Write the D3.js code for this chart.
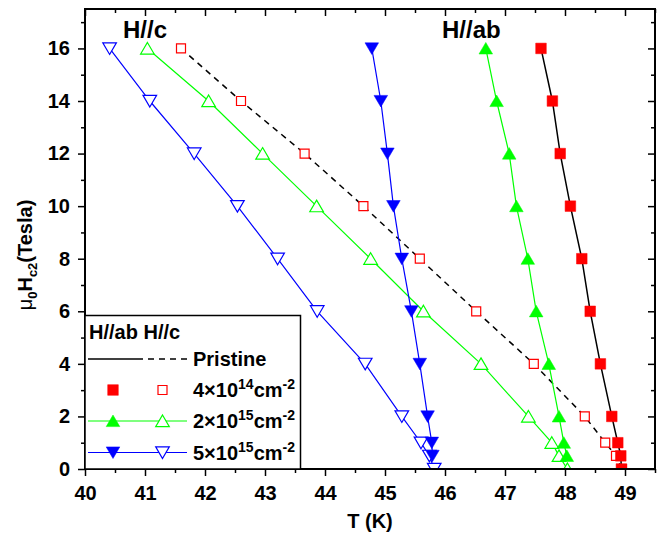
<!DOCTYPE html>
<html>
<head>
<meta charset="utf-8">
<script src="https://cdn.jsdelivr.net/npm/d3@7"></script>
<style>
  body { margin: 0; background: #fff; }
  svg text { font-family: "Liberation Sans", Arial, sans-serif; font-weight: bold; fill: #000; }
</style>
</head>
<body>
<div id="chart"></div>
<script>
// field values (Tesla)
const fieldFull = [16, 14, 12, 10, 8, 6, 4, 2, 1, 0.5, 0];
const fieldNoZero = [16, 14, 12, 10, 8, 6, 4, 2, 1, 0.5];

// temperatures (K), H//ab and H//c for each sample
const pristineAb = [47.6, 47.79, 47.92, 48.09, 48.28, 48.42, 48.59, 48.78, 48.88, 48.93, 48.94];
const pristineC = [41.6, 42.6, 43.66, 44.64, 45.58, 46.52, 47.48, 48.33, 48.67, 48.85, 48.95];
const dose2e15Ab = [46.68, 46.86, 47.07, 47.19, 47.38, 47.52, 47.73, 47.9, 47.98, 48.03];
const dose2e15C = [41.04, 42.06, 42.96, 43.86, 44.76, 45.64, 46.6, 47.39, 47.78, 47.9, 48.04];
const dose5e15Ab = [44.78, 44.93, 45.04, 45.14, 45.28, 45.44, 45.58, 45.71, 45.78, 45.79];
const dose5e15C = [40.41, 41.08, 41.82, 42.54, 43.21, 43.87, 44.67, 45.28, 45.6, 45.74, 45.82];

const xTicks = [40, 41, 42, 43, 44, 45, 46, 47, 48, 49];
const yTicks = [0, 2, 4, 6, 8, 10, 12, 14, 16];

const width = 660;
const height = 536;
const plotLeft = 85, plotRight = 655, plotTop = 9, plotBottom = 469;

const x = d3.scaleLinear().domain([40, 49.5]).range([plotLeft, plotRight]);
const y = d3.scaleLinear().domain([0, 17.5]).range([plotBottom, plotTop]);

const svg = d3.select('#chart')
    .append('svg')
    .attr('width', width)
    .attr('height', height);

svg.append('clipPath').attr('id', 'plotclip')
    .append('rect')
    .attr('x', plotLeft).attr('y', plotTop)
    .attr('width', plotRight - plotLeft).attr('height', plotBottom - plotTop);

// marker shapes
function markerPath(kind) {
    if (kind === 'square') return 'M-5.3,-5.3H5.3V5.3H-5.3Z';
    if (kind === 'squareOpen') return 'M-4.5,-4.5H4.5V4.5H-4.5Z';
    if (kind === 'up') return 'M0,-6L6.8,5.6H-6.8Z';
    if (kind === 'down') return 'M0,6L6.8,-5.6H-6.8Z';
}

const series = [
    { T: pristineC, H: fieldFull, line: '#000', dash: '6,5', lw: 1.5, shape: 'squareOpen', color: '#ff0000', filled: false },
    { T: dose2e15C, H: fieldFull, line: '#00ff00', dash: null, lw: 1.2, shape: 'up', color: '#00ff00', filled: false },
    { T: dose5e15C, H: fieldFull, line: '#0000ff', dash: null, lw: 1.2, shape: 'down', color: '#0000ff', filled: false },
    { T: pristineAb, H: fieldFull, line: '#000', dash: null, lw: 1.5, shape: 'square', color: '#ff0000', filled: true },
    { T: dose2e15Ab, H: fieldNoZero, line: '#00ff00', dash: null, lw: 1.2, shape: 'up', color: '#00ff00', filled: true },
    { T: dose5e15Ab, H: fieldNoZero, line: '#0000ff', dash: null, lw: 1.2, shape: 'down', color: '#0000ff', filled: true }
];

const plot = svg.append('g').attr('clip-path', 'url(#plotclip)');
const line = d3.line().x(d => x(d[0])).y(d => y(d[1]));

series.forEach(s => {
    const pts = s.T.map((t, i) => [t, s.H[i]]);
    plot.append('path')
        .attr('d', line(pts))
        .attr('fill', 'none')
        .attr('stroke', s.line)
        .attr('stroke-width', s.lw)
        .attr('stroke-dasharray', s.dash);
    plot.append('g').selectAll('path')
        .data(pts)
        .enter()
        .append('path')
        .attr('transform', d => 'translate(' + x(d[0]) + ',' + y(d[1]) + ')')
        .attr('d', markerPath(s.shape))
        .attr('fill', s.filled ? s.color : '#fff')
        .attr('stroke', s.color)
        .attr('stroke-width', s.filled ? 0.5 : 1.2);
});

// axes
function styleAxis(g) {
    g.select('.domain').remove();
    g.selectAll('line').attr('stroke', '#000').attr('stroke-width', 1.5);
    g.selectAll('text').attr('font-size', 20);
    g.attr('font-family', null).attr('font-size', null);
}

const xMinor = d3.range(40.5, 49.6, 1);
const yMinor = d3.range(1, 17.1, 2);

svg.append('g').attr('transform', 'translate(0,' + plotBottom + ')')
    .call(d3.axisBottom(x).tickValues(xTicks).tickSize(7).tickSizeOuter(0).tickPadding(10).tickFormat(d3.format('d')))
    .call(styleAxis);
svg.append('g').attr('transform', 'translate(0,' + plotBottom + ')')
    .call(d3.axisBottom(x).tickValues(xMinor).tickSize(4).tickSizeOuter(0).tickFormat(''))
    .call(styleAxis);
svg.append('g').attr('transform', 'translate(' + plotLeft + ',0)')
    .call(d3.axisLeft(y).tickValues(yTicks).tickSize(7).tickSizeOuter(0).tickPadding(8).tickFormat(d3.format('d')))
    .call(styleAxis);
svg.append('g').attr('transform', 'translate(' + plotLeft + ',0)')
    .call(d3.axisLeft(y).tickValues(yMinor).tickSize(4).tickSizeOuter(0).tickFormat(''))
    .call(styleAxis);
// mirrored axes, ticks pointing inward
svg.append('g').attr('transform', 'translate(0,' + plotTop + ')')
    .call(d3.axisBottom(x).tickValues(xTicks).tickSize(7).tickSizeOuter(0).tickFormat(''))
    .call(styleAxis);
svg.append('g').attr('transform', 'translate(0,' + plotTop + ')')
    .call(d3.axisBottom(x).tickValues(xMinor).tickSize(4).tickSizeOuter(0).tickFormat(''))
    .call(styleAxis);
svg.append('g').attr('transform', 'translate(' + plotRight + ',0)')
    .call(d3.axisLeft(y).tickValues(yTicks).tickSize(7).tickSizeOuter(0).tickFormat(''))
    .call(styleAxis);
svg.append('g').attr('transform', 'translate(' + plotRight + ',0)')
    .call(d3.axisLeft(y).tickValues(yMinor).tickSize(4).tickSizeOuter(0).tickFormat(''))
    .call(styleAxis);

svg.append('rect')
    .attr('x', plotLeft).attr('y', plotTop)
    .attr('width', plotRight - plotLeft).attr('height', plotBottom - plotTop)
    .attr('fill', 'none').attr('stroke', '#000').attr('stroke-width', 2);

// axis titles
svg.append('text')
    .attr('x', (plotLeft + plotRight) / 2).attr('y', 528)
    .attr('text-anchor', 'middle').attr('font-size', 20)
    .text('T (K)');

const yl = svg.append('text')
    .attr('transform', 'translate(32,255) rotate(-90)')
    .attr('text-anchor', 'middle').attr('font-size', 20);
yl.append('tspan').attr('font-weight', 'normal').text('\u03bc');
yl.append('tspan').attr('font-size', 13).attr('dy', 5).text('0');
yl.append('tspan').attr('dy', -5).text('H');
yl.append('tspan').attr('font-size', 13).attr('dy', 5).text('c2');
yl.append('tspan').attr('dy', -5).text('(Tesla)');

// panel labels
svg.append('text').attr('x', 123).attr('y', 38).attr('font-size', 24).text('H//c');
svg.append('text').attr('x', 442).attr('y', 38).attr('font-size', 24).text('H//ab');

// legend
const legend = svg.append('g');
legend.append('rect')
    .attr('x', plotLeft).attr('y', 315.5)
    .attr('width', 300.5 - plotLeft).attr('height', plotBottom - 315.5)
    .attr('fill', '#fff').attr('stroke', '#000').attr('stroke-width', 1.5);
legend.append('text').attr('x', 89).attr('y', 338.5).attr('font-size', 20).text('H//ab H//c');

const legendRows = [
    { label: ['Pristine'], lineY: 359, textY: 365.5 },
    { label: ['4\u00d710', '14', 'cm', '-2'], lineY: 390, textY: 396.5 },
    { label: ['2\u00d710', '15', 'cm', '-2'], lineY: 421, textY: 428 },
    { label: ['5\u00d710', '15', 'cm', '-2'], lineY: 452.5, textY: 459.5 }
];
const markX = [113, 162.5];

// pristine: solid + dashed line samples
legend.append('line').attr('x1', 88).attr('x2', 143).attr('y1', 359).attr('y2', 359)
    .attr('stroke', '#000').attr('stroke-width', 1.5);
legend.append('line').attr('x1', 148).attr('x2', 187).attr('y1', 359).attr('y2', 359)
    .attr('stroke', '#000').attr('stroke-width', 1.5).attr('stroke-dasharray', '6,5');

// marker rows: [filled series, open series, legend row]
[[3, 0, 1], [4, 1, 2], [5, 2, 3]].forEach(([fi, oi, row]) => {
    const ly = legendRows[row].lineY;
    const sf = series[fi], so = series[oi];
    if (sf.shape !== 'square') {
        legend.append('line').attr('x1', 88).attr('x2', 187).attr('y1', ly).attr('y2', ly)
            .attr('stroke', sf.line).attr('stroke-width', sf.lw);
    }
    legend.append('path').attr('transform', 'translate(' + markX[0] + ',' + ly + ')')
        .attr('d', markerPath(sf.shape)).attr('fill', sf.color).attr('stroke', sf.color).attr('stroke-width', 0.5);
    legend.append('path').attr('transform', 'translate(' + markX[1] + ',' + ly + ')')
        .attr('d', markerPath(so.shape)).attr('fill', '#fff').attr('stroke', so.color).attr('stroke-width', 1.2);
});

legendRows.forEach(r => {
    const t = legend.append('text').attr('x', 193).attr('y', r.textY).attr('font-size', 20);
    if (r.label.length === 1) {
        t.text(r.label[0]);
        return;
    }
    t.append('tspan').text(r.label[0]);
    t.append('tspan').attr('font-size', 14).attr('dy', -8).text(r.label[1]);
    t.append('tspan').attr('dy', 8).text(r.label[2]);
    t.append('tspan').attr('font-size', 14).attr('dy', -8).text(r.label[3]);
});
</script>
</body>
</html>
